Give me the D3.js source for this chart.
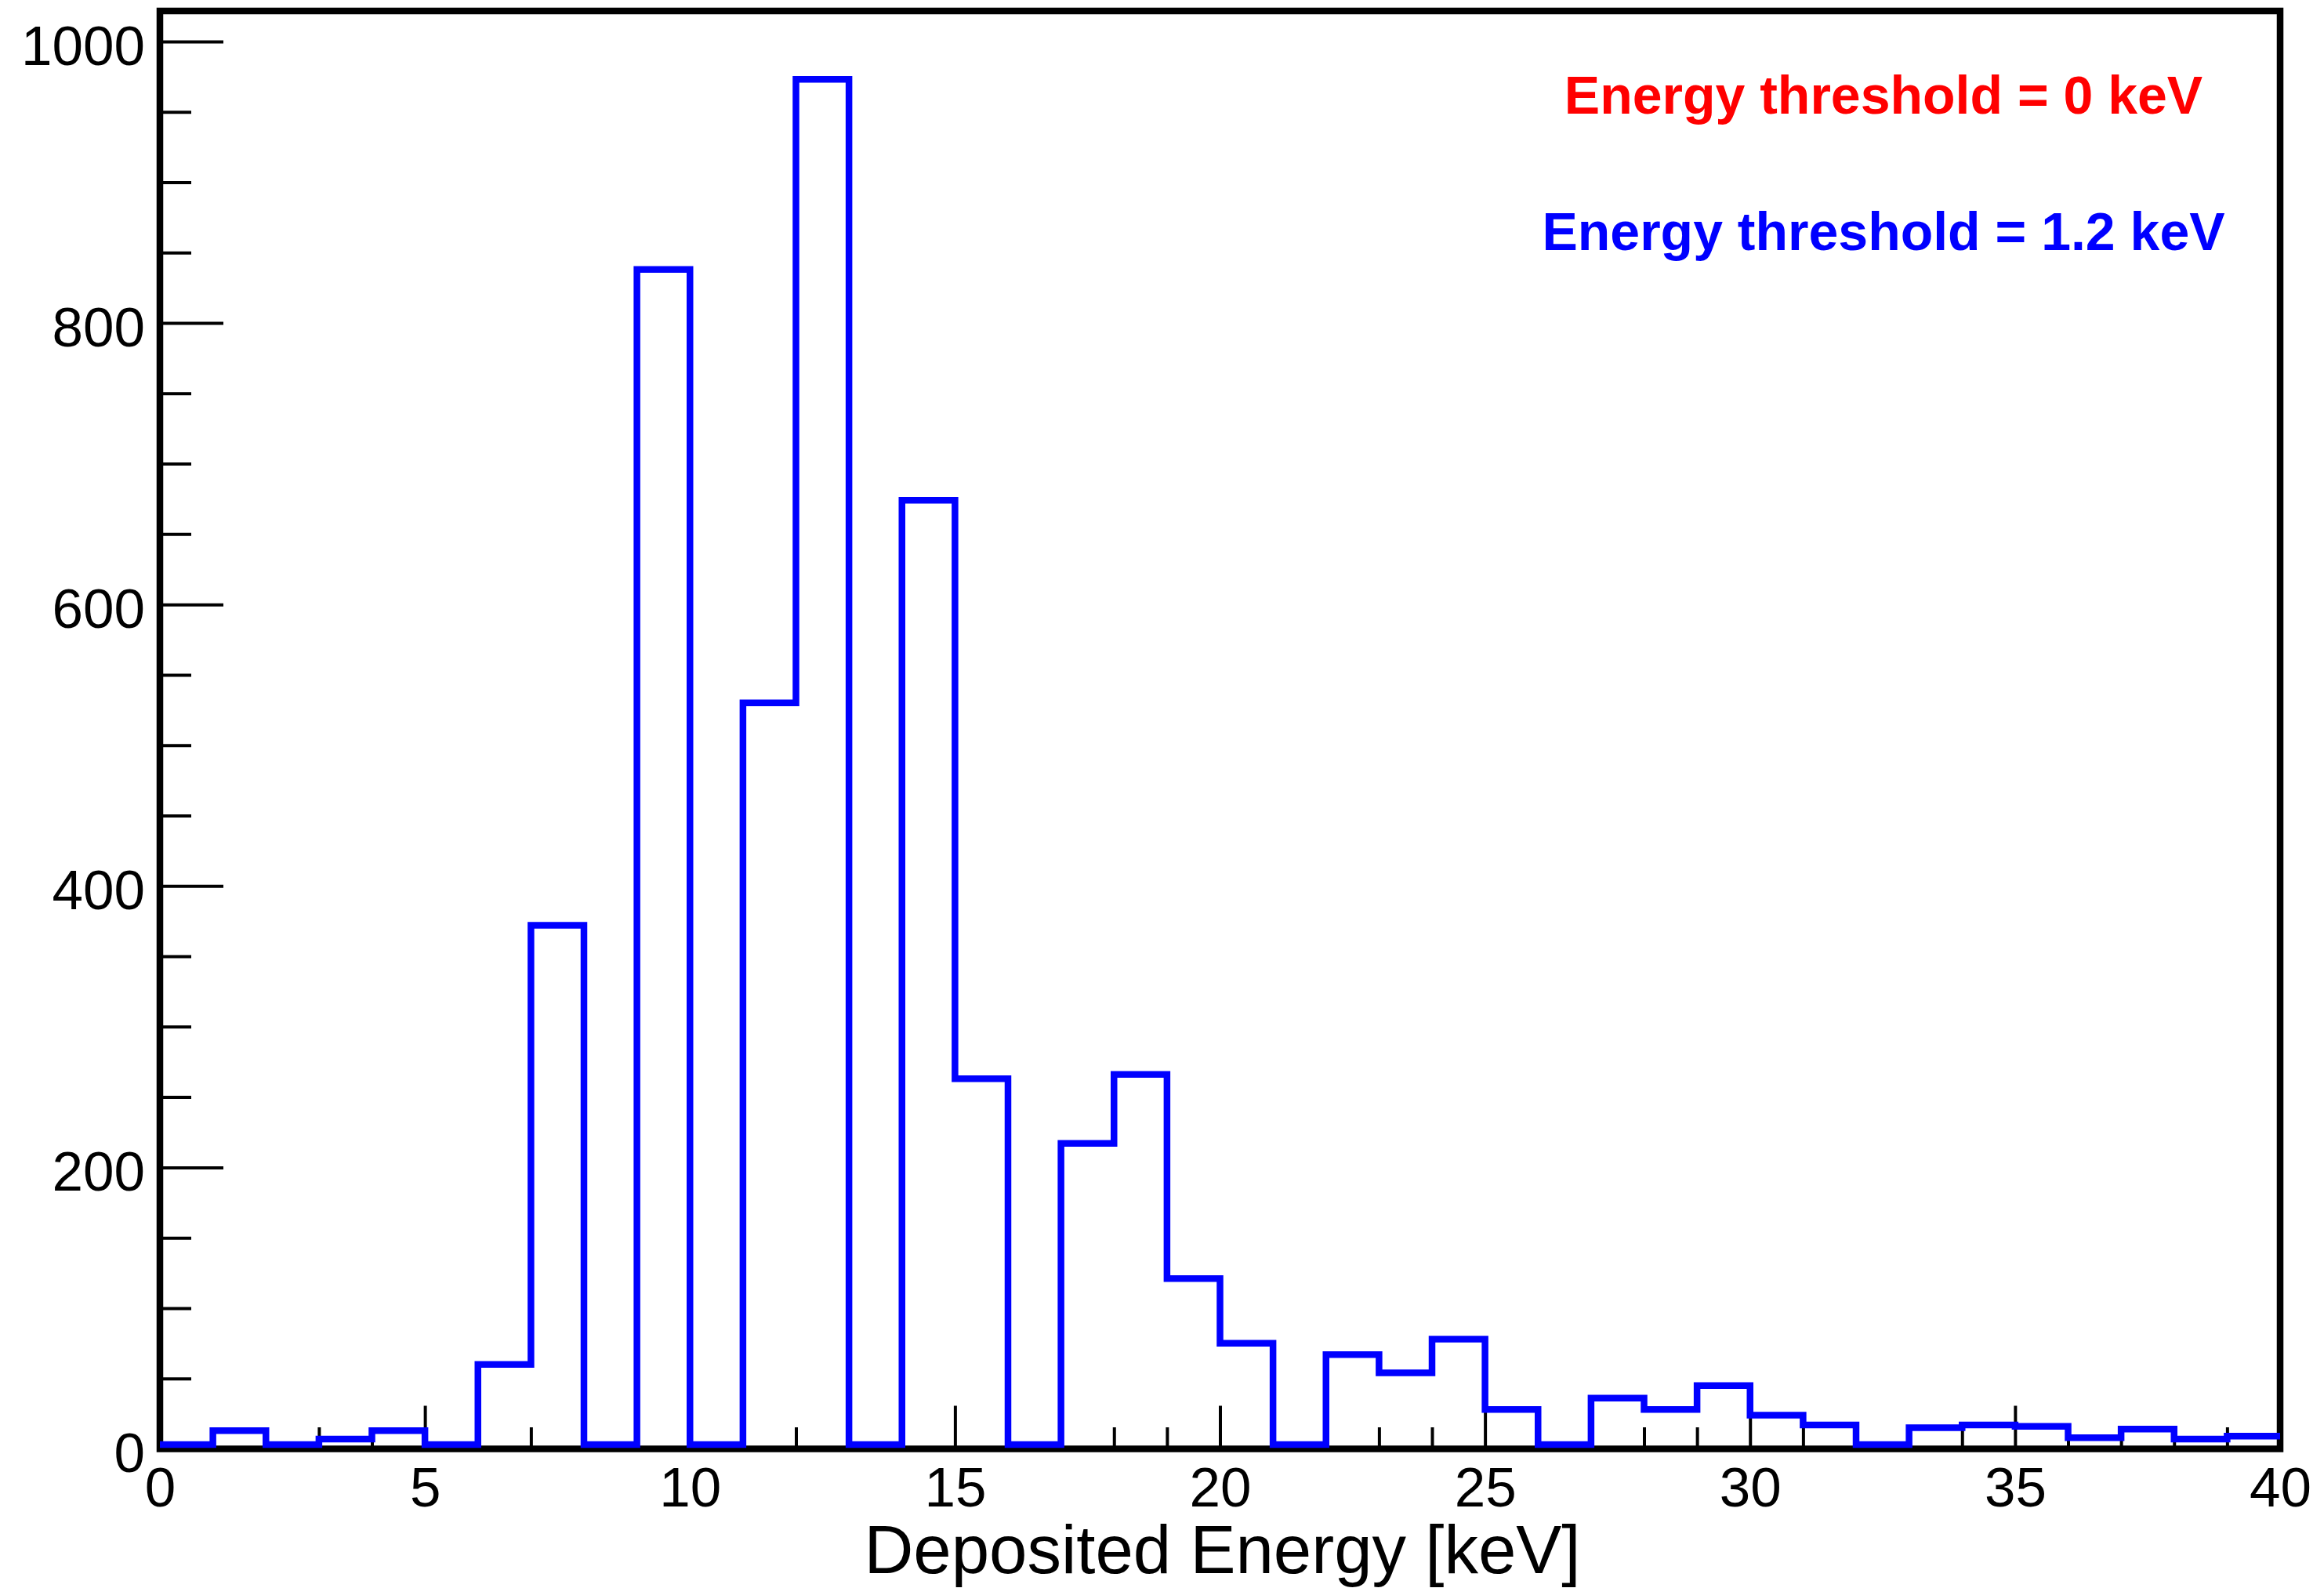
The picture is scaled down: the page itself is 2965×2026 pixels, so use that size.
<!DOCTYPE html>
<html>
<head>
<meta charset="utf-8">
<script src="https://cdn.jsdelivr.net/npm/d3@7"></script>
<style>
	body { margin: 0; background: #ffffff; }
	svg { display: block; font-family: "Liberation Sans", Arial, Helvetica, sans-serif; }
</style>
</head>
<body>
<svg id="chart" width="2965" height="2026"></svg>
<script>

	// histogram bins (lower edge, keV) and counts per 1 keV bin
	var binLow = [0,1,2,3,4,5,6,7,8,9,10,11,12,13,14,15,16,17,18,19,20,21,22,23,24,25,26,27,28,29,30,31,32,33,34,35,36,37,38,39];
	var binWidth = 1;
	var counts = [3,13,3,7,13,3,60,372,3,838,3,530,973,3,674,263,3,217,266,121,75,3,67,54,78,28,3,36,28,45,24,17,3,15,17,16,8,14,7,9];

	// axis ticks
	var xMajorTicks = [0,5,10,15,20,25,30,35,40];
	var xMinorTicks = [1,2,3,4,6,7,8,9,11,12,13,14,16,17,18,19,21,22,23,24,26,27,28,29,31,32,33,34,36,37,38,39];
	var yMajorTicks = [0,200,400,600,800,1000];
	var yMinorTicks = [50,100,150,250,300,350,450,500,550,650,700,750,850,900,950];

	var xTitle = "Deposited Energy [keV]";
	var legendLabels = ["Energy threshold = 0 keV", "Energy threshold = 1.2 keV"];
	var legendColors = ["#ff0000", "#0000ff"];

	function drawHisto(){

		var margin = { top: 14, right: 56, bottom: 177.5, left: 204 };
		var width = 2965 - margin.left - margin.right;
		var height = 2026 - margin.top - margin.bottom;

		var svg = d3.select("#chart");

		var x = d3.scaleLinear().domain([0, 40]).range([0, width]);
		// ROOT style headroom above the tallest bin
		var y = d3.scaleLinear().domain([0, d3.max(counts) * 1.05]).range([height, 0]);

		var g = svg.append("g")
			.attr("transform", "translate(" + margin.left + "," + margin.top + ")");

		// ticks point inwards, labels sit outside the frame
		var xAxis = g.append("g")
			.attr("class", "x axis")
			.attr("transform", "translate(0," + height + ")")
			.call(d3.axisBottom(x).tickValues(xMajorTicks).tickSize(-55).tickSizeOuter(0).tickPadding(23).tickFormat(d3.format("d")));

		var xMinor = g.append("g")
			.attr("class", "x minor")
			.attr("transform", "translate(0," + height + ")")
			.call(d3.axisBottom(x).tickValues(xMinorTicks).tickSize(-27.5).tickSizeOuter(0).tickFormat(""));

		var yAxis = g.append("g")
			.attr("class", "y axis")
			.call(d3.axisLeft(y).tickValues(yMajorTicks).tickSize(-81).tickSizeOuter(0).tickPadding(19).tickFormat(d3.format("d")));

		var yMinor = g.append("g")
			.attr("class", "y minor")
			.call(d3.axisLeft(y).tickValues(yMinorTicks).tickSize(-40).tickSizeOuter(0).tickFormat(""));

		g.selectAll(".domain").remove();
		g.selectAll(".tick line")
			.style("stroke", "#000")
			.style("stroke-width", "4px");

		g.selectAll(".axis .tick text")
			.style("font-size", "71px")
			.style("fill", "#000");
		yAxis.selectAll(".tick text").attr("dy", "0.41em");

		// frame box
		g.append("rect")
			.attr("x", 0)
			.attr("y", 0)
			.attr("width", width)
			.attr("height", height)
			.style("fill", "none")
			.style("stroke", "#000")
			.style("stroke-width", "8.5px");

		// step outline of the histogram
		var pts = [];
		binLow.forEach(function(lo, i){
			pts.push([lo, counts[i]]);
			pts.push([lo + binWidth, counts[i]]);
		});

		var line = d3.line()
			.x(function(d){ return x(d[0]); })
			.y(function(d){ return y(d[1]); });

		g.append("path")
			.datum(pts)
			.attr("d", line)
			.style("fill", "none")
			.style("stroke", "#0000ff")
			.style("stroke-width", "8.5px")
			.style("stroke-linejoin", "miter");

		// axis title, centred under the frame
		g.append("text")
			.attr("x", width / 2 + 3)
			.attr("y", 2007 - margin.top)
			.style("text-anchor", "middle")
			.style("font-size", "87px")
			.style("fill", "#000")
			.text(xTitle);

		// threshold labels
		svg.selectAll(".legendText")
			.data(legendLabels)
			.enter()
			.append("text")
			.attr("class", "legendText")
			.attr("x", 2403)
			.attr("y", function(d, i){ return 145 + i * 174; })
			.style("text-anchor", "middle")
			.style("font-size", "68px")
			.style("font-weight", "bold")
			.style("fill", function(d, i){ return legendColors[i]; })
			.text(function(d){ return d; });

		return;

	}// end function drawHisto()

	drawHisto();

</script>
</body>
</html>
